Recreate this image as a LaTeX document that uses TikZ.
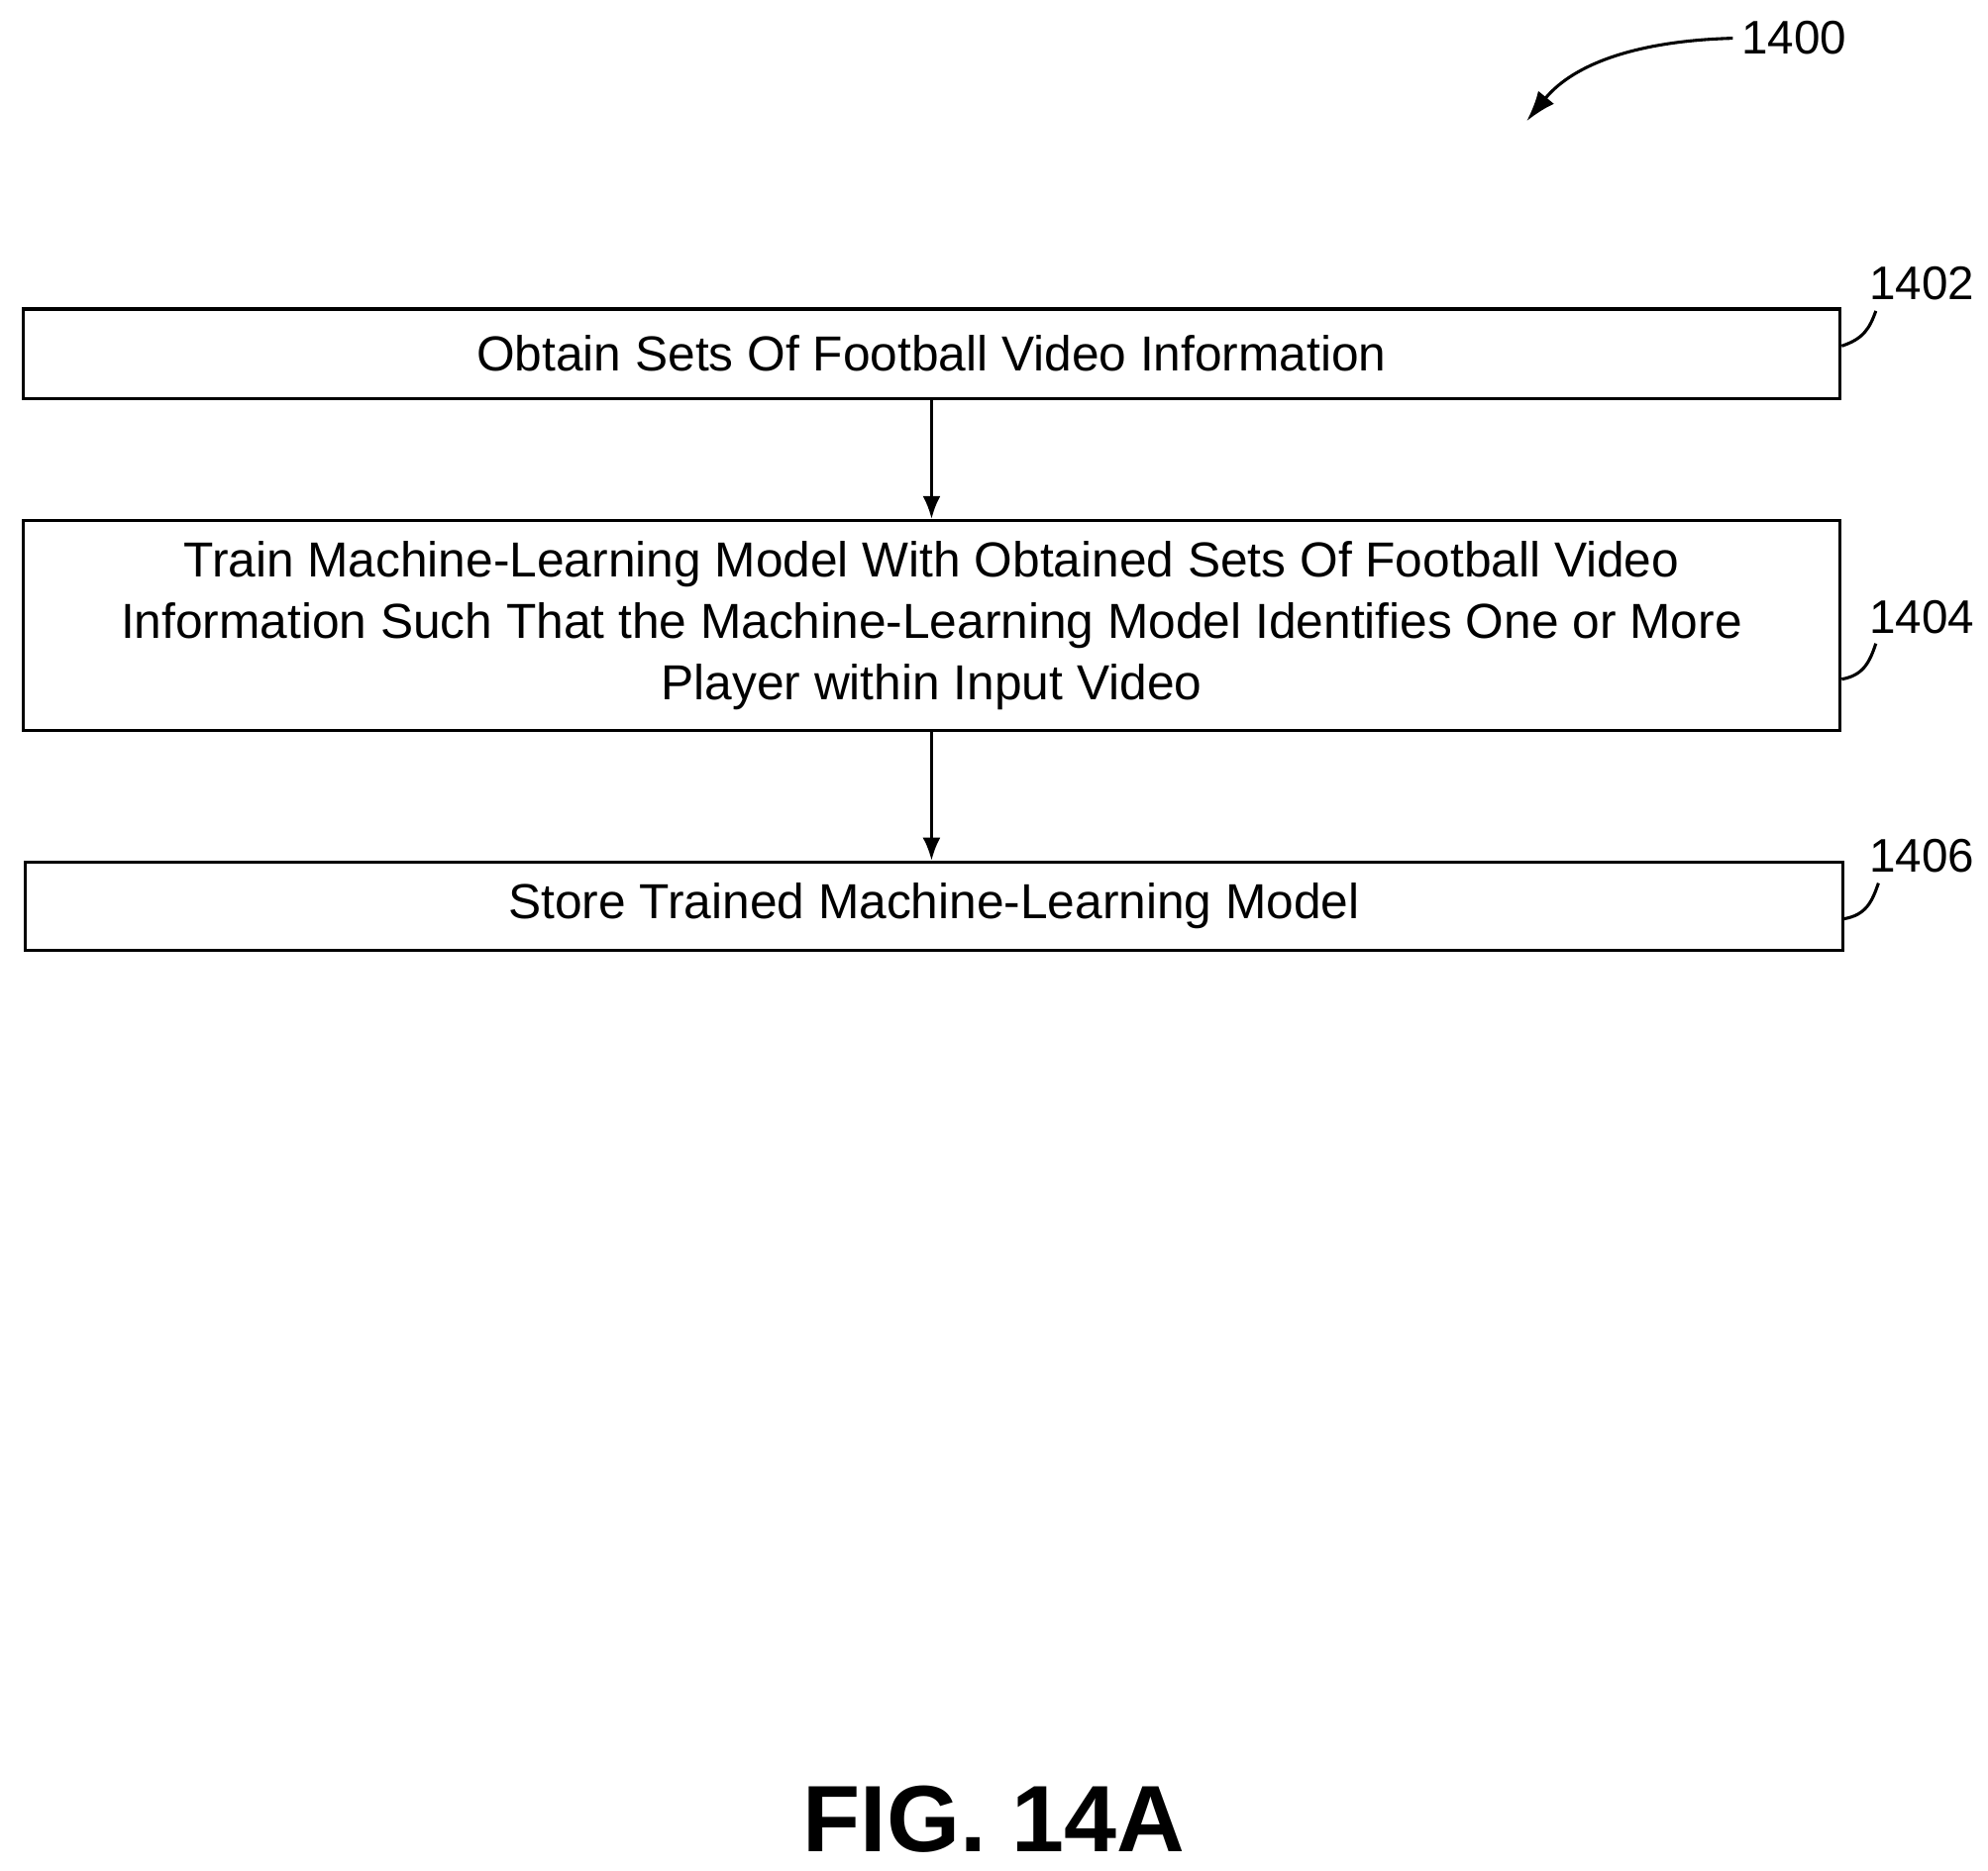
\documentclass[tikz,border=0pt]{standalone}
\usepackage{fontspec}
\setmainfont{Liberation Sans}
\usetikzlibrary{arrows.meta,positioning}

\begin{document}
\begin{tikzpicture}[x=0.5pt,y=-0.5pt,
  box/.style={draw,line width=1.2pt,minimum width=713pt,align=center,font=\fontsize{19.3}{24}\selectfont,inner sep=0pt},
  ref/.style={font=\fontsize{18.5}{20}\selectfont},
  flow/.style={-{Latex[length=9pt,width=7pt]},line width=1.2pt}]
\useasboundingbox (0,0) rectangle (1560,1468);

% Steps
\node[box,minimum height=35pt] (obtain) at (731,277.5) {Obtain Sets Of Football Video Information};
\node[box,minimum height=82.5pt] (train) at (731,491) {Train Machine-Learning Model With Obtained Sets Of Football Video\\Information Such That the Machine-Learning Model Identifies One or More\\Player within Input Video};
\node[box,minimum height=34.5pt] (store) at (733,711) {Store Trained Machine-Learning Model};

\draw[flow] (obtain) -- (train);
\draw[flow] (train.south) -- (store.north -| train.south);

% Reference numerals
\node[ref] (n1402) at (1508,222) {1402};
\node[ref] (n1404) at (1508,484) {1404};
\node[ref] (n1406) at (1508,672) {1406};
\draw[line width=1.2pt] (obtain.east) ++(0,-6) .. controls (1462,266) and (1467,258) .. (1472,244);
\draw[line width=1.2pt] (train.east) ++(0,42) .. controls (1462,530) and (1467,520) .. (1472,505);
\draw[line width=1.2pt] (store.east) ++(0,10) .. controls (1464,718) and (1469,708) .. (1474,693);

% Figure number
\node[ref] (n1400) at (1408,30) {1400};
\draw[-{Latex[length=12pt,width=8pt]},line width=1.2pt] (n1400.west) .. controls (1285,32) and (1235,50) .. (1198,95);

\node[font=\bfseries\fontsize{37}{40}\selectfont] (fig) at (780,1428) {FIG. 14A};
\end{tikzpicture}
\end{document}
